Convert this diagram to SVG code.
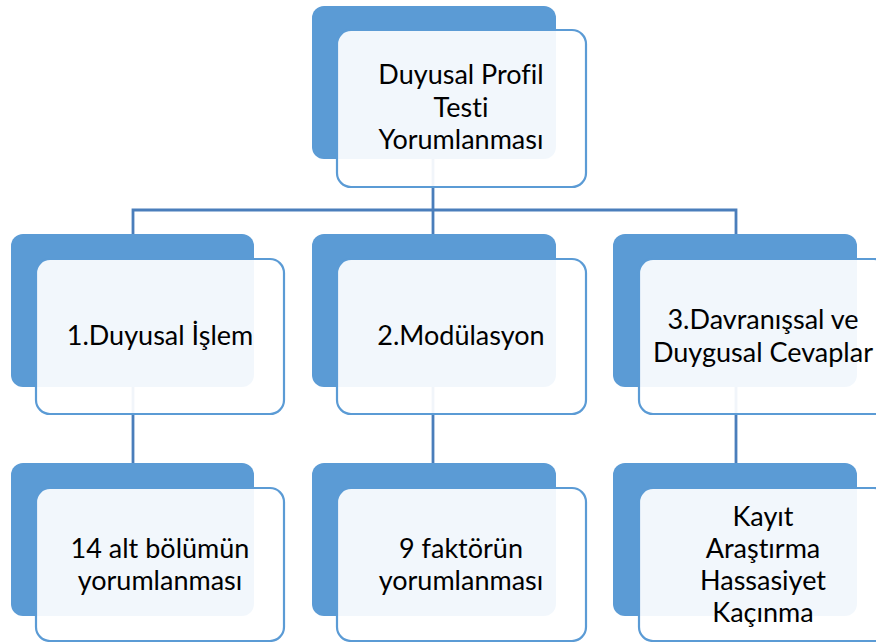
<svg xmlns="http://www.w3.org/2000/svg" width="876" height="642" viewBox="0 0 876 642">
  <style>
    .back { fill: #5B9BD5; }
    .front { fill: #FFFFFF; fill-opacity: 0.92; stroke: #5B9BD5; stroke-width: 2.2; }
    .link { fill: none; stroke: #4A7EBB; stroke-width: 2.8; }
    .label { font-family: Lato, "Liberation Sans", sans-serif; font-size: 27px; fill: #000000; text-anchor: middle; font-variant-ligatures: none; }
  </style>
  <rect width="876" height="642" fill="#FFFFFF"/>

  <!-- connectors -->
  <g id="connectors">
    <path class="link" d="M433,159 V210"/>
    <path class="link" d="M133,234 V210 H736 V234"/>
    <path class="link" d="M433,210 V234"/>
    <path class="link" d="M133,387 V463"/>
    <path class="link" d="M433,387 V463"/>
    <path class="link" d="M736,387 V463"/>
  </g>

  <!-- root -->
  <g id="root">
    <rect class="back" x="312" y="6" width="244" height="153" rx="12"/>
    <rect class="front" x="337" y="30" width="249" height="157" rx="14"/>
    <text class="label" x="461"><tspan x="461" y="84">Duyusal Profil</tspan><tspan x="461" y="117">Testi</tspan><tspan x="461" y="149">Yorumlanması</tspan></text>
  </g>

  <!-- second level -->
  <g id="duyusal-islem">
    <rect class="back" x="11" y="234" width="243" height="153" rx="12"/>
    <rect class="front" x="36" y="259" width="248" height="155" rx="14"/>
    <text class="label" x="160" y="345">1.Duyusal İşlem</text>
  </g>
  <g id="modulasyon">
    <rect class="back" x="312" y="234" width="244" height="153" rx="12"/>
    <rect class="front" x="337" y="259" width="249" height="155" rx="14"/>
    <text class="label" x="461" y="345">2.Modülasyon</text>
  </g>
  <g id="davranissal">
    <rect class="back" x="613" y="234" width="244" height="153" rx="12"/>
    <rect class="front" x="639" y="259" width="249" height="155" rx="14"/>
    <text class="label"><tspan x="763" y="329">3.Davranışsal ve</tspan><tspan x="763" y="362">Duygusal Cevaplar</tspan></text>
  </g>

  <!-- third level -->
  <g id="alt-bolum">
    <rect class="back" x="11" y="463" width="243" height="153" rx="12"/>
    <rect class="front" x="36" y="488" width="248" height="153" rx="14"/>
    <text class="label"><tspan x="160" y="558">14 alt bölümün</tspan><tspan x="160" y="590">yorumlanması</tspan></text>
  </g>
  <g id="faktor">
    <rect class="back" x="312" y="463" width="244" height="153" rx="12"/>
    <rect class="front" x="337" y="488" width="249" height="153" rx="14"/>
    <text class="label"><tspan x="461" y="558">9 faktörün</tspan><tspan x="461" y="590">yorumlanması</tspan></text>
  </g>
  <g id="kayit">
    <rect class="back" x="613" y="463" width="244" height="153" rx="12"/>
    <rect class="front" x="639" y="488" width="249" height="153" rx="14"/>
    <text class="label"><tspan x="763" y="526">Kayıt</tspan><tspan x="763" y="558">Araştırma</tspan><tspan x="763" y="590">Hassasiyet</tspan><tspan x="763" y="622">Kaçınma</tspan></text>
  </g>
</svg>
